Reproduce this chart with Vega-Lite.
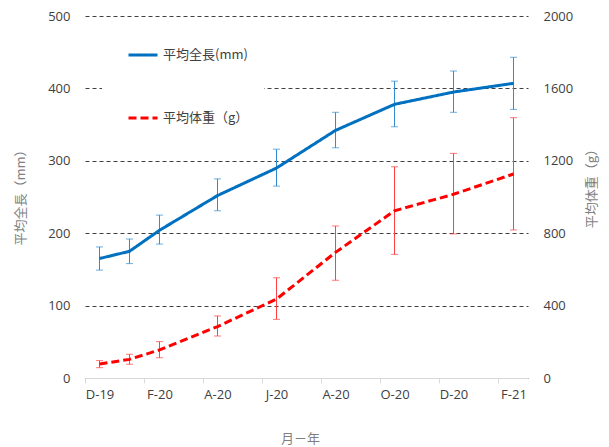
{
  "$schema": "https://vega.github.io/schema/vega-lite/v6.json",
  "width": 443,
  "height": 362,
  "autosize": {"type": "none"},
  "padding": {"left": 85, "top": 16, "right": 81, "bottom": 69},
  "background": "white",
  "config": {
    "view": {"stroke": null},
    "font": "Open Sans"
  },
  "data": {
    "values": [
      {"date": "2019-12-01", "series": "平均全長(mm)", "mean": 165, "lo": 149, "hi": 181},
      {"date": "2020-01-01", "series": "平均全長(mm)", "mean": 175, "lo": 158, "hi": 192},
      {"date": "2020-02-01", "series": "平均全長(mm)", "mean": 204, "lo": 185, "hi": 225},
      {"date": "2020-04-01", "series": "平均全長(mm)", "mean": 252, "lo": 231, "hi": 275},
      {"date": "2020-06-01", "series": "平均全長(mm)", "mean": 290, "lo": 265, "hi": 316},
      {"date": "2020-08-01", "series": "平均全長(mm)", "mean": 342, "lo": 318, "hi": 367},
      {"date": "2020-10-01", "series": "平均全長(mm)", "mean": 378, "lo": 347, "hi": 410},
      {"date": "2020-12-01", "series": "平均全長(mm)", "mean": 395, "lo": 367, "hi": 424},
      {"date": "2021-02-01", "series": "平均全長(mm)", "mean": 407, "lo": 371, "hi": 443},
      {"date": "2019-12-01", "series": "平均体重（g）", "mean": 77, "lo": 57, "hi": 96},
      {"date": "2020-01-01", "series": "平均体重（g）", "mean": 103, "lo": 76, "hi": 131},
      {"date": "2020-02-01", "series": "平均体重（g）", "mean": 155, "lo": 112, "hi": 201},
      {"date": "2020-04-01", "series": "平均体重（g）", "mean": 284, "lo": 232, "hi": 343},
      {"date": "2020-06-01", "series": "平均体重（g）", "mean": 436, "lo": 324, "hi": 554},
      {"date": "2020-08-01", "series": "平均体重（g）", "mean": 694, "lo": 540, "hi": 840},
      {"date": "2020-10-01", "series": "平均体重（g）", "mean": 924, "lo": 683, "hi": 1167},
      {"date": "2020-12-01", "series": "平均体重（g）", "mean": 1015, "lo": 796, "hi": 1241},
      {"date": "2021-02-01", "series": "平均体重（g）", "mean": 1127, "lo": 818, "hi": 1438}
    ]
  },
  "encoding": {
    "x": {
      "field": "date",
      "type": "temporal",
      "scale": {
        "type": "utc",
        "domain": [
          {"year": 2019, "month": 11, "date": 16, "utc": true},
          {"year": 2021, "month": 2, "date": 16, "utc": true}
        ]
      },
      "axis": {
        "values": [
          {"year": 2019, "month": 12, "date": 1, "utc": true},
          {"year": 2020, "month": 2, "date": 1, "utc": true},
          {"year": 2020, "month": 4, "date": 1, "utc": true},
          {"year": 2020, "month": 6, "date": 1, "utc": true},
          {"year": 2020, "month": 8, "date": 1, "utc": true},
          {"year": 2020, "month": 10, "date": 1, "utc": true},
          {"year": 2020, "month": 12, "date": 1, "utc": true},
          {"year": 2021, "month": 2, "date": 1, "utc": true}
        ],
        "labelExpr": "slice(utcFormat(datum.value, '%b'), 0, 1) + '-' + utcFormat(datum.value, '%y')",
        "tickOffset": -15,
        "labelOffset": 15,
        "labelFlush": false,
        "labelOverlap": false,
        "tickColor": "#d9d9d9",
        "tickSize": 5,
        "domainColor": "#d9d9d9",
        "domainWidth": 1,
        "grid": false,
        "zindex": 1,
        "labelPadding": 5,
        "labelFont": "Open Sans",
        "labelFontSize": 13,
        "labelColor": "#404040",
        "title": "月－年",
        "titleFont": "Noto Sans CJK JP",
        "titleFontSize": 13,
        "titleFontWeight": "normal",
        "titleColor": "#7f7f7f",
        "titleX": 215,
        "titleY": 60,
        "titleAlign": "center",
        "titleBaseline": "middle"
      }
    }
  },
  "layer": [
    {
      "transform": [{"filter": "datum.series === '平均全長(mm)'"}],
      "encoding": {
        "y": {
          "field": "mean",
          "type": "quantitative",
          "scale": {"domain": [0, 500], "nice": false},
          "axis": {
            "orient": "left",
            "values": [0, 100, 200, 300, 400, 500],
            "grid": true,
            "gridDash": [4, 3],
            "gridColor": "#404040",
            "gridWidth": 1,
            "domain": false,
            "ticks": false,
            "labelPadding": 15,
            "labelFont": "Open Sans",
            "labelFontSize": 13,
            "labelColor": "#404040",
            "title": "平均全長（mm）",
            "titleFont": "Noto Sans CJK JP",
            "titleFontSize": 13,
            "titleFontWeight": "normal",
            "titleColor": "#7f7f7f",
            "titleAngle": 270,
            "titlePadding": 20,
            "titleY": 178,
            "titleAlign": "center"
          }
        }
      },
      "layer": [
        {
          "mark": {"type": "rule", "color": "#2E8BD1", "strokeWidth": 1},
          "encoding": {
            "y": {"field": "lo", "type": "quantitative"},
            "y2": {"field": "hi"}
          }
        },
        {
          "mark": {"type": "tick", "orient": "horizontal", "color": "#2E8BD1", "size": 7, "thickness": 1},
          "encoding": {"y": {"field": "lo", "type": "quantitative"}}
        },
        {
          "mark": {"type": "tick", "orient": "horizontal", "color": "#2E8BD1", "size": 7, "thickness": 1},
          "encoding": {"y": {"field": "hi", "type": "quantitative"}}
        },
        {
          "mark": {"type": "line", "strokeWidth": 3},
          "encoding": {
            "color": {
              "field": "series",
              "type": "nominal",
              "scale": {"domain": ["平均全長(mm)", "平均体重（g）"], "range": ["#0070C0", "#FF0000"]},
              "legend": {
                "orient": "none",
                "legendX": 17,
                "legendY": 8,
                "title": null,
                "fillColor": "white",
                "padding": 15,
                "rowPadding": 40,
                "symbolOffset": 10,
                "symbolType": "stroke",
                "symbolSize": 841,
                "symbolStrokeWidth": 3,
                "labelFont": "Noto Sans CJK JP",
                "labelFontSize": 13,
                "labelColor": "#404040",
                "labelOffset": 4
              }
            },
            "strokeDash": {
              "field": "series",
              "type": "nominal",
              "scale": {"domain": ["平均全長(mm)", "平均体重（g）"], "range": [[1, 0], [8, 4]]}
            }
          }
        }
      ]
    },
    {
      "transform": [{"filter": "datum.series === '平均体重（g）'"}],
      "encoding": {
        "y": {
          "field": "mean",
          "type": "quantitative",
          "scale": {"domain": [0, 2000], "nice": false},
          "axis": {
            "orient": "right",
            "values": [0, 400, 800, 1200, 1600, 2000],
            "format": "d",
            "grid": false,
            "domain": false,
            "ticks": false,
            "labelPadding": 15,
            "labelFont": "Open Sans",
            "labelFontSize": 13,
            "labelColor": "#404040",
            "title": "平均体重（g）",
            "titleFont": "Noto Sans CJK JP",
            "titleFontSize": 13,
            "titleFontWeight": "normal",
            "titleColor": "#7f7f7f",
            "titleAngle": 270,
            "titleX": 63,
            "titleY": 169,
            "titleAlign": "center",
            "titleBaseline": "middle"
          }
        }
      },
      "layer": [
        {
          "mark": {"type": "rule", "color": "#FF4040", "strokeWidth": 1},
          "encoding": {
            "y": {"field": "lo", "type": "quantitative"},
            "y2": {"field": "hi"}
          }
        },
        {
          "mark": {"type": "tick", "orient": "horizontal", "color": "#FF4040", "size": 7, "thickness": 1},
          "encoding": {"y": {"field": "lo", "type": "quantitative"}}
        },
        {
          "mark": {"type": "tick", "orient": "horizontal", "color": "#FF4040", "size": 7, "thickness": 1},
          "encoding": {"y": {"field": "hi", "type": "quantitative"}}
        },
        {
          "mark": {"type": "line", "strokeWidth": 3},
          "encoding": {
            "color": {
              "field": "series",
              "type": "nominal",
              "scale": {"domain": ["平均全長(mm)", "平均体重（g）"], "range": ["#0070C0", "#FF0000"]}
            },
            "strokeDash": {
              "field": "series",
              "type": "nominal",
              "scale": {"domain": ["平均全長(mm)", "平均体重（g）"], "range": [[1, 0], [8, 4]]}
            }
          }
        }
      ]
    }
  ],
  "resolve": {"scale": {"y": "independent"}}
}
